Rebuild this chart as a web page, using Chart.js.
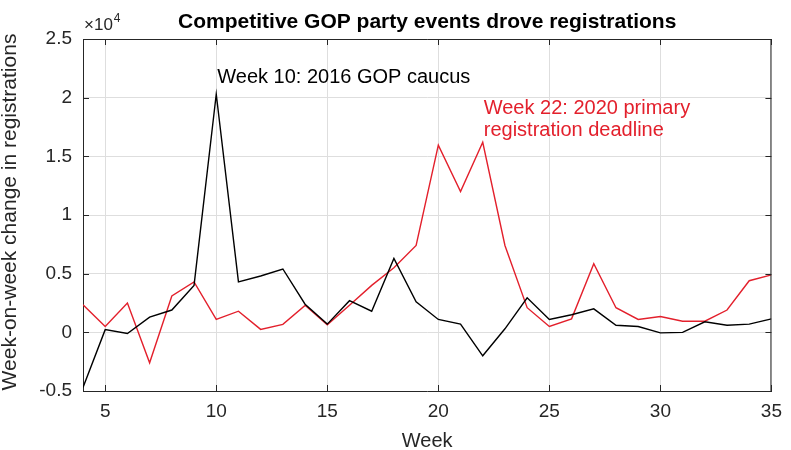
<!DOCTYPE html>
<html>
<head>
<meta charset="utf-8">
<script src="https://cdn.jsdelivr.net/npm/chart.js@4/dist/chart.umd.min.js"></script>
<style>
  html, body { margin: 0; padding: 0; background: #fff; }
  #wrap { width: 791px; height: 450px; }
</style>
</head>
<body>
<div id="wrap"><canvas id="c" width="791" height="450"></canvas></div>
<script>
// ---- data ----
const weeks = [4,5,6,7,8,9,10,11,12,13,14,15,16,17,18,19,20,21,22,23,24,25,26,27,28,29,30,31,32,33,34,35];
const gop2016 = [-4700,230,-100,1300,1900,4000,20300,4300,4800,5400,2400,700,2700,1800,6300,2600,1100,700,-2000,300,2950,1100,1500,2000,600,500,-50,0,900,600,700,1150];
const primary2020 = [2350,500,2500,-2600,3100,4300,1100,1800,250,680,2300,650,2300,4000,5500,7400,15950,12000,16200,7400,2100,500,1150,5850,2100,1100,1350,950,950,1900,4400,4900];
const xTickValues = [5,10,15,20,25,30,35];
const yTickValues = [-5000,0,5000,10000,15000,20000,25000];
const titleText = 'Competitive GOP party events drove registrations';
const xLabel = 'Week';
const yLabel = 'Week-on-week change in registrations';
const note2016 = ['Week 10: 2016 GOP caucus'];
const note2020 = ['Week 22: 2020 primary', 'registration deadline'];

const FONT = '"Liberation Sans", Arial, Helvetica, sans-serif';
const AXIS_COLOR = '#262626';
const RED = '#e3202c';

const decorPlugin = {
  id: 'decor',
  afterDraw(chart) {
    const ctx = chart.ctx, a = chart.chartArea;
    const xs = chart.scales.x, ys = chart.scales.y;
    ctx.save();
    // box (top + right) and inward ticks
    ctx.strokeStyle = AXIS_COLOR;
    ctx.lineWidth = 1;
    ctx.beginPath();
    ctx.moveTo(a.left, a.top + 0.5); ctx.lineTo(a.right, a.top + 0.5);
    ctx.moveTo(a.right - 0.5, a.top); ctx.lineTo(a.right - 0.5, a.bottom);
    xTickValues.forEach(v => {
      const px = Math.round(xs.getPixelForValue(v)) + 0.5;
      ctx.moveTo(px, a.bottom); ctx.lineTo(px, a.bottom - 6);
      ctx.moveTo(px, a.top); ctx.lineTo(px, a.top + 6);
    });
    yTickValues.forEach(v => {
      const py = Math.round(ys.getPixelForValue(v)) + 0.5;
      ctx.moveTo(a.left, py); ctx.lineTo(a.left + 6, py);
      ctx.moveTo(a.right, py); ctx.lineTo(a.right - 6, py);
    });
    ctx.stroke();

    // title
    ctx.fillStyle = '#000';
    ctx.font = 'bold 21px ' + FONT;
    ctx.textAlign = 'center';
    ctx.textBaseline = 'alphabetic';
    ctx.fillText(titleText, (a.left + a.right) / 2, 28);

    // exponent label
    ctx.fillStyle = AXIS_COLOR;
    ctx.textAlign = 'left';
    ctx.font = '17px ' + FONT;
    ctx.fillText('\u00d710', a.left + 1, 30);
    const w = ctx.measureText('\u00d710').width;
    ctx.font = '12px ' + FONT;
    ctx.fillText('4', a.left + 1 + w + 1, 22);

    // axis titles
    ctx.font = '20px ' + FONT;
    ctx.textAlign = 'center';
    ctx.fillText(xLabel, (a.left + a.right) / 2, 447);
    ctx.save();
    ctx.font = '21px ' + FONT;
    ctx.translate(16, (a.top + a.bottom) / 2 - 3);
    ctx.rotate(-Math.PI / 2);
    ctx.fillText(yLabel, 0, 0);
    ctx.restore();

    // annotations
    ctx.textAlign = 'left';
    ctx.font = '20px ' + FONT;
    ctx.fillStyle = '#000';
    ctx.fillText(note2016[0], xs.getPixelForValue(10) + 1, ys.getPixelForValue(21260));
    ctx.fillStyle = RED;
    note2020.forEach((t, i) => {
      ctx.fillText(t, xs.getPixelForValue(22) + 1, ys.getPixelForValue(18600) + i * 22);
    });
    ctx.restore();
  }
};

new Chart(document.getElementById('c'), {
  type: 'line',
  data: {
    labels: weeks,
    datasets: [
      { label: '2016', data: weeks.map((w, i) => ({ x: w, y: gop2016[i] })), borderColor: '#000', borderWidth: 1.4, pointRadius: 0, tension: 0, fill: false },
      { label: '2020', data: weeks.map((w, i) => ({ x: w, y: primary2020[i] })), borderColor: RED, borderWidth: 1.4, pointRadius: 0, tension: 0, fill: false }
    ]
  },
  options: {
    responsive: false,
    animation: false,
    devicePixelRatio: 1,
    layout: { padding: { left: 0, right: 10, top: 39, bottom: 0 } },
    plugins: { legend: { display: false }, tooltip: { enabled: false }, title: { display: false } },
    scales: {
      x: {
        type: 'linear', min: 4, max: 35,
        afterBuildTicks: s => { s.ticks = xTickValues.map(v => ({ value: v })); },
        afterFit: s => { s.height = 59; },
        ticks: { color: AXIS_COLOR, font: { family: FONT, size: 19 }, padding: 9, maxRotation: 0, autoSkip: false },
        grid: { color: '#dedede', lineWidth: 1, drawTicks: false },
        border: { display: true, color: AXIS_COLOR, width: 1 }
      },
      y: {
        type: 'linear', min: -5000, max: 25000,
        afterBuildTicks: s => { s.ticks = yTickValues.map(v => ({ value: v })); },
        afterFit: s => { s.width = 83; },
        ticks: { color: AXIS_COLOR, font: { family: FONT, size: 19 }, padding: 11, callback: v => String(v / 10000) },
        grid: { color: '#dedede', lineWidth: 1, drawTicks: false },
        border: { display: true, color: AXIS_COLOR, width: 1 }
      }
    }
  },
  plugins: [decorPlugin]
});
</script>
</body>
</html>
